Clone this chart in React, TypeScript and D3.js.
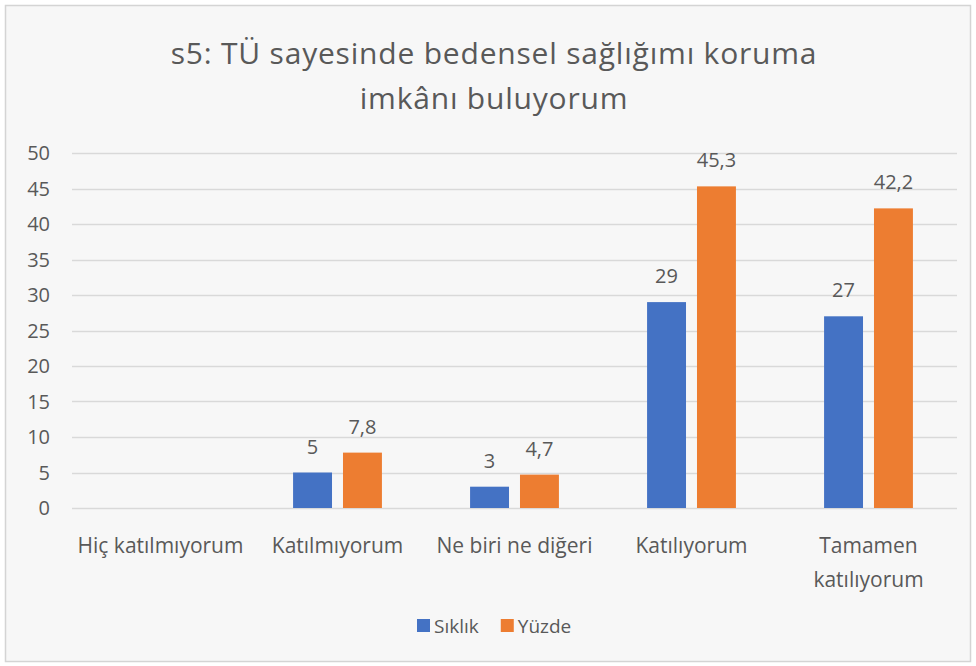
import React, { useEffect, useRef } from 'react';
import * as d3 from 'd3';

const categories = ['Hiç katılmıyorum', 'Katılmıyorum', 'Ne biri ne diğeri', 'Katılıyorum', 'Tamamen katılıyorum'];
const categoryLines = [['Hiç katılmıyorum'], ['Katılmıyorum'], ['Ne biri ne diğeri'], ['Katılıyorum'], ['Tamamen', 'katılıyorum']];
const siklik = [null, 5, 3, 29, 27];
const yuzde = [null, 7.8, 4.7, 45.3, 42.2];
const seriesNames = ['Sıklık', 'Yüzde'];
const seriesColors = ['#4472C4', '#ED7D31'];
const yTicks = [0, 5, 10, 15, 20, 25, 30, 35, 40, 45, 50];
const titleLines = ['s5: TÜ sayesinde bedensel sağlığımı koruma', 'imkânı buluyorum'];

const W = 976, H = 666;
const FONT = '"Open Sans", "Noto Sans", sans-serif';
const TXT = '#595959';

export default function App() {
  const ref = useRef<SVGSVGElement>(null);

  useEffect(() => {
    const svg = d3.select(ref.current);
    svg.selectAll('*').remove();

    // chart frame
    svg.append('rect').attr('x', 0).attr('y', 0).attr('width', W).attr('height', H).attr('fill', '#ffffff');
    svg.append('rect').attr('x', 5.5).attr('y', 5.5).attr('width', W - 11).attr('height', H - 10)
      .attr('fill', '#f7f7f7').attr('stroke', '#d4d4d4').attr('stroke-width', 1.5);

    const m = { left: 72, right: 957, top: 153, bottom: 508 };
    const x = d3.scaleBand().domain(categories).range([m.left, m.right]);
    const y = d3.scaleLinear().domain([0, 50]).range([m.bottom, m.top]);

    // title
    svg.append('g').selectAll('text').data(titleLines).enter().append('text')
      .attr('x', 494).attr('y', (_, i) => 64 + i * 45)
      .attr('text-anchor', 'middle').attr('font-family', FONT).attr('font-size', 30)
      .attr('letter-spacing', 0.8)
      .attr('fill', TXT).text(d => d);

    // gridlines + y labels
    const grid = svg.append('g');
    grid.selectAll('line').data(yTicks).enter().append('line')
      .attr('x1', m.left).attr('x2', m.right)
      .attr('y1', d => Math.round(y(d)) + 0.5).attr('y2', d => Math.round(y(d)) + 0.5)
      .attr('stroke', '#d9d9d9').attr('stroke-width', 1.3);
    grid.selectAll('text').data(yTicks).enter().append('text')
      .attr('x', 50).attr('y', d => y(d)).attr('dy', '0.36em')
      .attr('text-anchor', 'end').attr('font-family', FONT).attr('font-size', 20)
      .attr('fill', TXT).text(d => d);

    // bars: width ~22% of band, small gap between the pair
    const bw = x.bandwidth() * 0.22;
    const gap = x.bandwidth() * 0.062;
    const offset = (si: number) => x.bandwidth() / 2 - bw - gap / 2 + si * (bw + gap);
    const series = [siklik, yuzde];
    series.forEach((vals, si) => {
      const g = svg.append('g');
      const rows = categories.map((c, i) => ({ c, v: vals[i] })).filter(d => d.v != null) as { c: string; v: number }[];
      g.selectAll('rect').data(rows).enter().append('rect')
        .attr('x', d => (x(d.c) as number) + offset(si))
        .attr('width', bw)
        .attr('y', d => y(d.v)).attr('height', d => y(0) - y(d.v))
        .attr('fill', seriesColors[si]);
      g.selectAll('text').data(rows).enter().append('text')
        .attr('x', d => (x(d.c) as number) + offset(si) + bw / 2)
        .attr('y', d => y(d.v) - 19)
        .attr('text-anchor', 'middle').attr('font-family', FONT).attr('font-size', 20)
        .attr('fill', TXT).text(d => String(d.v).replace('.', ','));
    });

    // category labels
    const cat = svg.append('g');
    categories.forEach((c, i) => {
      const cx = (x(c) as number) + x.bandwidth() / 2;
      const t = cat.append('text')
        .attr('x', cx).attr('y', 553)
        .attr('text-anchor', 'middle').attr('font-family', FONT).attr('font-size', 21)
        .attr('fill', TXT);
      categoryLines[i].forEach((ln, j) => {
        t.append('tspan').attr('x', cx).attr('dy', j === 0 ? 0 : 34).text(ln);
      });
    });

    // legend
    const lg = svg.append('g').attr('transform', 'translate(417,626)');
    let off = 0;
    seriesNames.forEach((s, i) => {
      lg.append('rect').attr('x', off).attr('y', -7).attr('width', 13).attr('height', 13).attr('fill', seriesColors[i]);
      const t = lg.append('text').attr('x', off + 17).attr('y', 0).attr('dy', '0.36em')
        .attr('font-family', FONT).attr('font-size', 19).attr('fill', TXT).text(s);
      off += 17 + (t.node() as SVGTextElement).getComputedTextLength() + 22;
    });
  }, []);

  return (
    <svg ref={ref} width={W} height={H}
      style={{ position: 'absolute', left: 0, top: 0, display: 'block' }} />
  );
}
